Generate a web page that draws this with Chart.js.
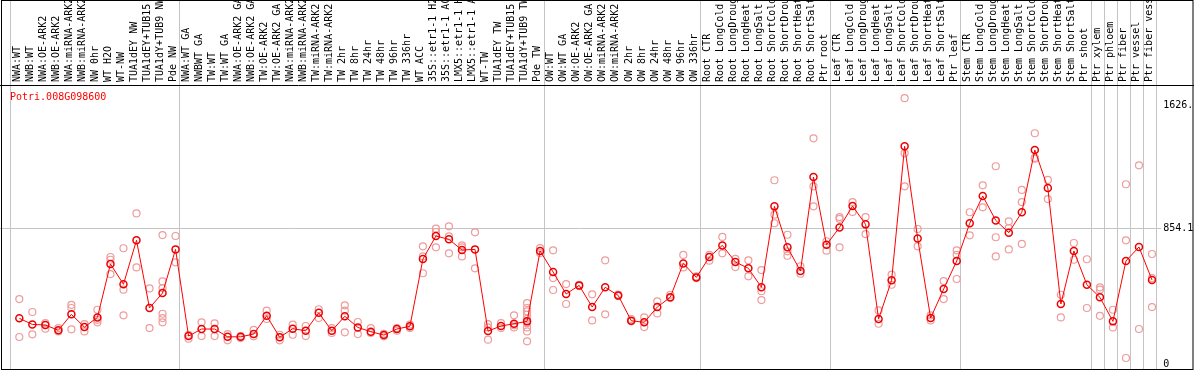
<!DOCTYPE html>
<html>
<head>
<meta charset="utf-8">
<script src="https://cdn.jsdelivr.net/npm/chart.js@4.4.1/dist/chart.umd.min.js"></script>
<style>
	body { margin: 0; background: #fff; }
	canvas { display: block; }
</style>
</head>
<body>
<canvas id="chart" width="1194" height="370"></canvas>
<script>
const geneName = "Potri.008G098600"

const samples = [
	"NWA:WT", "NWB:WT", "NWA:OE-ARK2", "NWB:OE-ARK2", "NWA:miRNA-ARK2", "NWB:miRNA-ARK2",
	"NW 0hr", "WT H2O", "WT-NW", "TUA1dEY NW", "TUA1dEY+TUB15 NW", "TUA1dY+TUB9 NW", "Pde NW",
	"NWA:WT GA", "NWBWT GA", "TW:WT", "TW:WT GA", "NWA:OE-ARK2 GA", "NWB:OE-ARK2 GA",
	"TW:OE-ARK2", "TW:OE-ARK2 GA", "NWA:miRNA-ARK2", "NWB:miRNA-ARK2", "TW:miRNA-ARK2", "TW:miRNA-ARK2",
	"TW 2hr", "TW 8hr", "TW 24hr", "TW 48hr", "TW 96hr", "TW 336hr", "WT ACC",
	"35S::etr1-1 H2O", "35S::etr1-1 ACC", "LMX5::etr1-1 H2O", "LMX5::etr1-1 ACC",
	"WT-TW", "TUA1dEY TW", "TUA1dEY+TUB15 TW", "TUA1dY+TUB9 TW", "Pde TW",
	"OW:WT", "OW:WT GA", "OW:OE-ARK2", "OW:OE-ARK2 GA", "OW:miRNA-ARK2", "OW:miRNA-ARK2",
	"OW 2hr", "OW 8hr", "OW 24hr", "OW 48hr", "OW 96hr", "OW 336hr",
	"Root CTR", "Root LongCold", "Root LongDrought", "Root LongHeat", "Root LongSalt",
	"Root ShortCold", "Root ShortDrought", "Root ShortHeat", "Root ShortSalt", "Ptr root",
	"Leaf CTR", "Leaf LongCold", "Leaf LongDrought", "Leaf LongHeat", "Leaf LongSalt",
	"Leaf ShortCold", "Leaf ShortDrought", "Leaf ShortHeat", "Leaf ShortSalt", "Ptr leaf",
	"Stem CTR", "Stem LongCold", "Stem LongDrought", "Stem LongHeat", "Stem LongSalt",
	"Stem ShortCold", "Stem ShortDrought", "Stem ShortHeat", "Stem ShortSalt", "Ptr shoot",
	"Ptr xylem", "Ptr phloem", "Ptr fiber", "Ptr vessel", "Ptr fiber vessel"
]

// samples per block, a grey rule is drawn between blocks
const groupSizes = [13, 28, 12, 10, 10, 10, 1, 1, 1, 1, 1]

const means = [
	287, 249, 245, 212, 312, 232, 293, 628, 501, 777, 352, 446, 720,
	176, 220, 220, 171, 171, 188, 303, 168, 222, 209, 322, 209, 300, 230, 203,
	182, 220, 237, 659, 804, 783, 716, 720, 207, 239, 253, 268, 710,
	578, 440, 494, 358, 482, 431, 272, 262, 358, 419, 632, 544,
	672, 745, 641, 601, 482, 990, 733, 584, 1174, 749,
	858, 992, 877, 283, 526, 1367, 789, 289, 471, 647,
	884, 1055, 902, 825, 953, 1344, 1105, 377, 710, 498,
	419, 268, 647, 735, 528
]

const replicates = [
	[408, 170], [327, 187], [257, 222], [226, 205], [372, 352, 218], [251, 205],
	[341, 278, 262], [672, 655, 565], [727, 467, 306], [946, 607], [475, 226],
	[810, 519, 477, 316, 289, 262], [804, 639],
	[184, 159], [262, 176], [256, 176], [188, 149], [176, 163], [215, 174], [335, 283],
	[184, 149], [247, 184], [239, 176], [344, 289], [226, 195], [369, 335, 199], [264, 188],
	[226, 195], [190, 174], [226, 209], [248, 226], [739, 676, 570], [850, 829, 733],
	[865, 802, 695], [745, 733, 676], [827, 601], [251, 230, 153], [257, 226], [306, 243, 230],
	[383, 352, 331, 310, 284, 257, 230, 205, 143], [728, 697],
	[714, 540, 465], [502, 377], [498, 490], [438, 274], [651, 312], [436, 427],
	[283, 268], [293, 232], [394, 318], [435, 414], [685, 607], [550, 540],
	[686, 649], [798, 695], [661, 609], [651, 551], [590, 457, 402], [1154, 938, 884],
	[812, 708, 680], [614, 567], [1417, 1116, 990], [771, 712],
	[923, 912, 733], [1017, 955], [923, 816], [337, 253], [561, 498], [1669, 1323, 1116],
	[848, 739], [306, 274], [521, 408], [714, 686, 534],
	[953, 808], [1122, 984], [1242, 796, 676], [896, 854, 720], [1093, 1017, 754],
	[1449, 1289, 1294], [1156, 1036], [435, 293], [760, 655], [658, 352],
	[482, 467, 303], [341, 230], [1129, 777, 38], [1248, 220], [691, 540, 358]
]

const yTickValues = [0, 854.1, 1626]
const yTickLabels = ["0", "854.1", "1626."]

const yMin = -31
const yMax = 1752
// points sit a little right of the column centre
const pointShift = 0.177

const mono = "DejaVu Sans Mono"

const meanPoints = means.map((v, i) => ({ x: i, y: v }))
const repPoints = []
replicates.forEach((vals, i) => vals.forEach(v => repPoints.push({ x: i, y: v })))

const noPadding = (scale) => {
	scale.paddingTop = 0
	scale.paddingBottom = 0
	scale.paddingLeft = 0
	scale.paddingRight = 0
}

const decor = {
	id: "decor",
	beforeDraw(chart) {
		const c = chart.ctx
		c.save()
		c.fillStyle = "#fff"
		c.fillRect(0, 0, chart.width, chart.height)
		c.restore()
	},
	beforeDatasetsDraw(chart) {
		const c = chart.ctx
		const xs = chart.scales.x
		const ys = chart.scales.y
		const area = chart.chartArea
		c.save()
		c.strokeStyle = "#c4c4c4"
		c.lineWidth = 1

		let edge = 0
		const edges = [0]
		groupSizes.forEach(n => {
			edge += n
			edges.push(edge)
		})
		edges.forEach(i => {
			const px = Math.floor(xs.getPixelForValue(i - 0.5)) + 0.5
			c.beginPath()
			c.moveTo(px, 0)
			c.lineTo(px, area.bottom)
			c.stroke()
		})

		const py = Math.round(ys.getPixelForValue(yTickValues[1])) + 0.5
		c.beginPath()
		c.moveTo(0, py)
		c.lineTo(area.right + 5, py)
		c.stroke()
		c.restore()
	},
	afterDraw(chart) {
		const c = chart.ctx
		const area = chart.chartArea
		c.save()
		c.strokeStyle = "#000"
		c.lineWidth = 1
		c.beginPath()
		c.moveTo(0, area.top + 0.5)
		c.lineTo(chart.width, area.top + 0.5)
		c.stroke()
		c.strokeRect(1.5, 0.5, chart.width - 2.5, area.bottom)

		c.fillStyle = "#ff0000"
		c.font = "10px " + mono
		c.textBaseline = "top"
		c.fillText(geneName, 10, area.top + 7)
		c.restore()
	}
}

new Chart(document.getElementById("chart"), {
	data: {
		labels: samples,
		datasets: [
			{
				type: "line",
				data: meanPoints,
				xAxisID: "xd",
				yAxisID: "y",
				order: 0,
				borderColor: "#ff0000",
				borderWidth: 1,
				tension: 0,
				pointStyle: "circle",
				pointRadius: 3.5,
				pointBorderWidth: 1.5,
				pointBorderColor: "#ee0000",
				pointBackgroundColor: "rgba(0,0,0,0)",
			},
			{
				type: "scatter",
				data: repPoints,
				xAxisID: "xd",
				yAxisID: "y",
				order: 1,
				pointStyle: "circle",
				pointRadius: 3.5,
				borderWidth: 1.2,
				borderColor: "#ee9c9c",
				backgroundColor: "rgba(0,0,0,0)",
			},
		],
	},
	options: {
		responsive: false,
		animation: false,
		devicePixelRatio: 1,
		layout: {
			autoPadding: false,
			padding: { left: 10.5, right: 0, top: 0, bottom: 1 },
		},
		plugins: {
			legend: { display: false },
			tooltip: { enabled: false },
		},
		scales: {
			x: {
				type: "category",
				position: "top",
				offset: true,
				grid: { display: false, drawTicks: false },
				border: { display: false },
				ticks: {
					autoSkip: false,
					minRotation: 90,
					maxRotation: 90,
					padding: 3,
					labelOffset: 12,
					color: "#000",
					font: { family: mono, size: 10 },
				},
				afterFit: (scale) => {
					scale.height = 85
					noPadding(scale)
				},
			},
			xd: {
				type: "linear",
				display: false,
				min: -0.5 - pointShift,
				max: samples.length - 0.5 - pointShift,
			},
			y: {
				type: "linear",
				position: "right",
				min: yMin,
				max: yMax,
				grid: { display: false, drawTicks: false },
				border: { display: false },
				afterBuildTicks: (axis) => {
					axis.ticks = yTickValues.map(v => ({ value: v }))
				},
				ticks: {
					padding: 7,
					color: "#000",
					font: { family: mono, size: 10 },
					callback: (v, i) => yTickLabels[i],
				},
				afterFit: (scale) => {
					scale.width = 37.8
					noPadding(scale)
				},
			},
		},
	},
	plugins: [decor],
})
</script>
</body>
</html>
